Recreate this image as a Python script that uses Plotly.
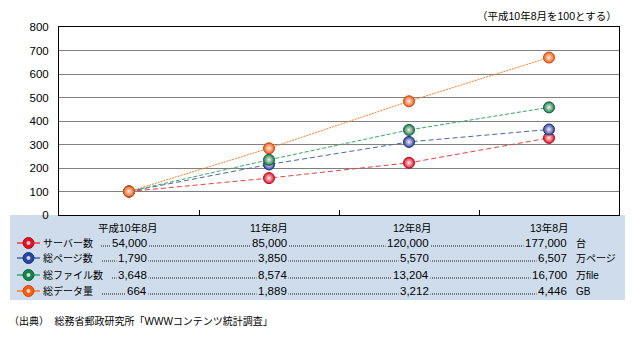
import plotly.graph_objects as go

# ---------------- data ----------------
periods = ["平成10年8月", "11年8月", "12年8月", "13年8月"]
series_names = ["サーバー数", "総ページ数", "総ファイル数", "総データ量"]
units = ["台", "万ページ", "万file", "GB"]

idx_server = [100, 157, 222, 328]
idx_pages = [100, 215, 311, 364]
idx_files = [100, 235, 362, 458]
idx_data = [100, 284, 484, 670]

raw_server = [54000, 85000, 120000, 177000]
raw_pages = [1790, 3850, 5570, 6507]
raw_files = [3648, 8574, 13204, 16700]
raw_data = [664, 1889, 3212, 4446]

y_ticks = [0, 100, 200, 300, 400, 500, 600, 700, 800]
note_text = "（平成10年8月を100とする）"
source_text = "（出典）  総務省郵政研究所「WWWコンテンツ統計調査」"

# ---------------- styles ----------------
line_colors = ["rgb(232,64,64)", "rgb(70,100,175)", "rgb(60,165,100)", "rgb(245,125,45)"]
marker_colors = ["rgb(220,20,40)", "rgb(40,70,160)", "rgb(20,130,75)", "rgb(240,95,20)"]
marker_edges = ["rgb(180,10,25)", "rgb(25,50,130)", "rgb(10,100,55)", "rgb(210,70,10)"]
dashes = ["5px,3px", "5px,3px", "4px,2px", "2px,1px"]
table_bg = "rgb(206,220,235)"
FONT = "Liberation Sans, Arial, Noto Sans CJK JP, sans-serif"

W, H = 635, 337
L, R, T, B = 59, 619, 27, 215


def px(x):
    return (x - L) / (R - L)


def py(y):
    return (B - y) / (B - T)


fig = go.Figure()
idx_all = [idx_server, idx_pages, idx_files, idx_data]
raw_all = [raw_server, raw_pages, raw_files, raw_data]

for i, (name, vals) in enumerate(zip(series_names, idx_all)):
    fig.add_trace(go.Scatter(
        x=periods, y=vals, name=name, mode="lines+markers",
        line=dict(color=line_colors[i], width=1, dash=dashes[i]),
        marker=dict(size=11, color=marker_colors[i],
                    gradient=dict(type="radial", color="rgb(255,235,235)"),
                    line=dict(color=marker_edges[i], width=1)),
        showlegend=False, cliponaxis=False,
    ))

shapes = []
annotations = []

# table background
shapes.append(dict(type="rect", xref="paper", yref="paper", x0=px(10), x1=px(625),
                   y0=py(300), y1=py(215), fillcolor=table_bg, line=dict(width=0), layer="below"))

# header row
header_y = 228
header_cx = [128, 269, 412, 549]
for lab, cx in zip(periods, header_cx):
    annotations.append(dict(text=lab, x=px(cx), y=py(header_y), xref="paper", yref="paper",
                            xanchor="center", yanchor="middle", showarrow=False,
                            font=dict(size=10.5, color="black", family=FONT)))

row_y = [243, 258, 275, 291]
dots_start = [101, 102, 112, 102]
val_right = [148, 288, 430, 568]
for i in range(4):
    yy = row_y[i]
    # legend icon
    shapes.append(dict(type="line", xref="paper", yref="paper", x0=px(17), x1=px(40),
                       y0=py(yy), y1=py(yy), line=dict(color=line_colors[i], width=1.5)))
    shapes.append(dict(type="circle", xref="paper", yref="paper", x0=px(23), x1=px(34),
                       y0=py(yy + 5.5), y1=py(yy - 5.5), fillcolor=marker_colors[i],
                       line=dict(color=marker_edges[i], width=1)))
    shapes.append(dict(type="circle", xref="paper", yref="paper", x0=px(26.5), x1=px(30.5),
                       y0=py(yy + 2), y1=py(yy - 2), fillcolor="rgba(255,230,230,0.85)",
                       line=dict(width=0)))
    # dotted leader
    shapes.append(dict(type="line", xref="paper", yref="paper", x0=px(dots_start[i]), x1=px(566),
                       y0=py(yy + 3), y1=py(yy + 3),
                       line=dict(color="rgb(30,30,30)", width=1, dash="1px,1px")))
    annotations.append(dict(text=series_names[i], x=px(41), y=py(yy), xref="paper", yref="paper",
                            xanchor="left", yanchor="middle", showarrow=False,
                            font=dict(size=10, color="black", family=FONT)))
    for j in range(4):
        annotations.append(dict(text=f"{raw_all[i][j]:,}", x=px(val_right[j] + 1), y=py(yy),
                                xref="paper", yref="paper", xanchor="right", yanchor="middle",
                                showarrow=False, bgcolor=table_bg, borderpad=1,
                                font=dict(size=11.5, color="black", family=FONT)))
    annotations.append(dict(text=units[i], x=px(574), y=py(yy), xref="paper", yref="paper",
                            xanchor="left", yanchor="middle", showarrow=False,
                            font=dict(size=10, color="black", family=FONT)))

annotations.append(dict(text=note_text, x=px(619), y=py(16), xref="paper", yref="paper",
                        xanchor="right", yanchor="middle", showarrow=False,
                        font=dict(size=10.5, color="black", family=FONT)))
annotations.append(dict(text=source_text, x=px(7), y=py(321), xref="paper", yref="paper",
                        xanchor="left", yanchor="middle", showarrow=False,
                        font=dict(size=10, color="black", family=FONT)))

fig.update_layout(
    width=W, height=H, margin=dict(l=L, r=W - R, t=T, b=H - B, pad=0),
    paper_bgcolor="white", plot_bgcolor="white",
    font=dict(family=FONT, size=11, color="black"),
    shapes=shapes, annotations=annotations,
    xaxis=dict(type="category", categoryorder="array", categoryarray=periods,
               range=[-0.5, 3.5], showticklabels=False, showgrid=False,
               ticks="inside", tickson="boundaries", ticklen=5, tickcolor="black",
               showline=True, linecolor="black", linewidth=1, mirror=True, zeroline=False),
    yaxis=dict(range=[0, 800], tickvals=y_ticks, ticktext=[str(v) for v in y_ticks],
               showgrid=True, gridcolor="rgb(128,128,128)", gridwidth=1,
               showline=True, linecolor="black", linewidth=1, mirror=True, zeroline=False,
               ticks="", ticklabelstandoff=7, tickfont=dict(size=11.5)),
)

fig.write_html("out.html")
